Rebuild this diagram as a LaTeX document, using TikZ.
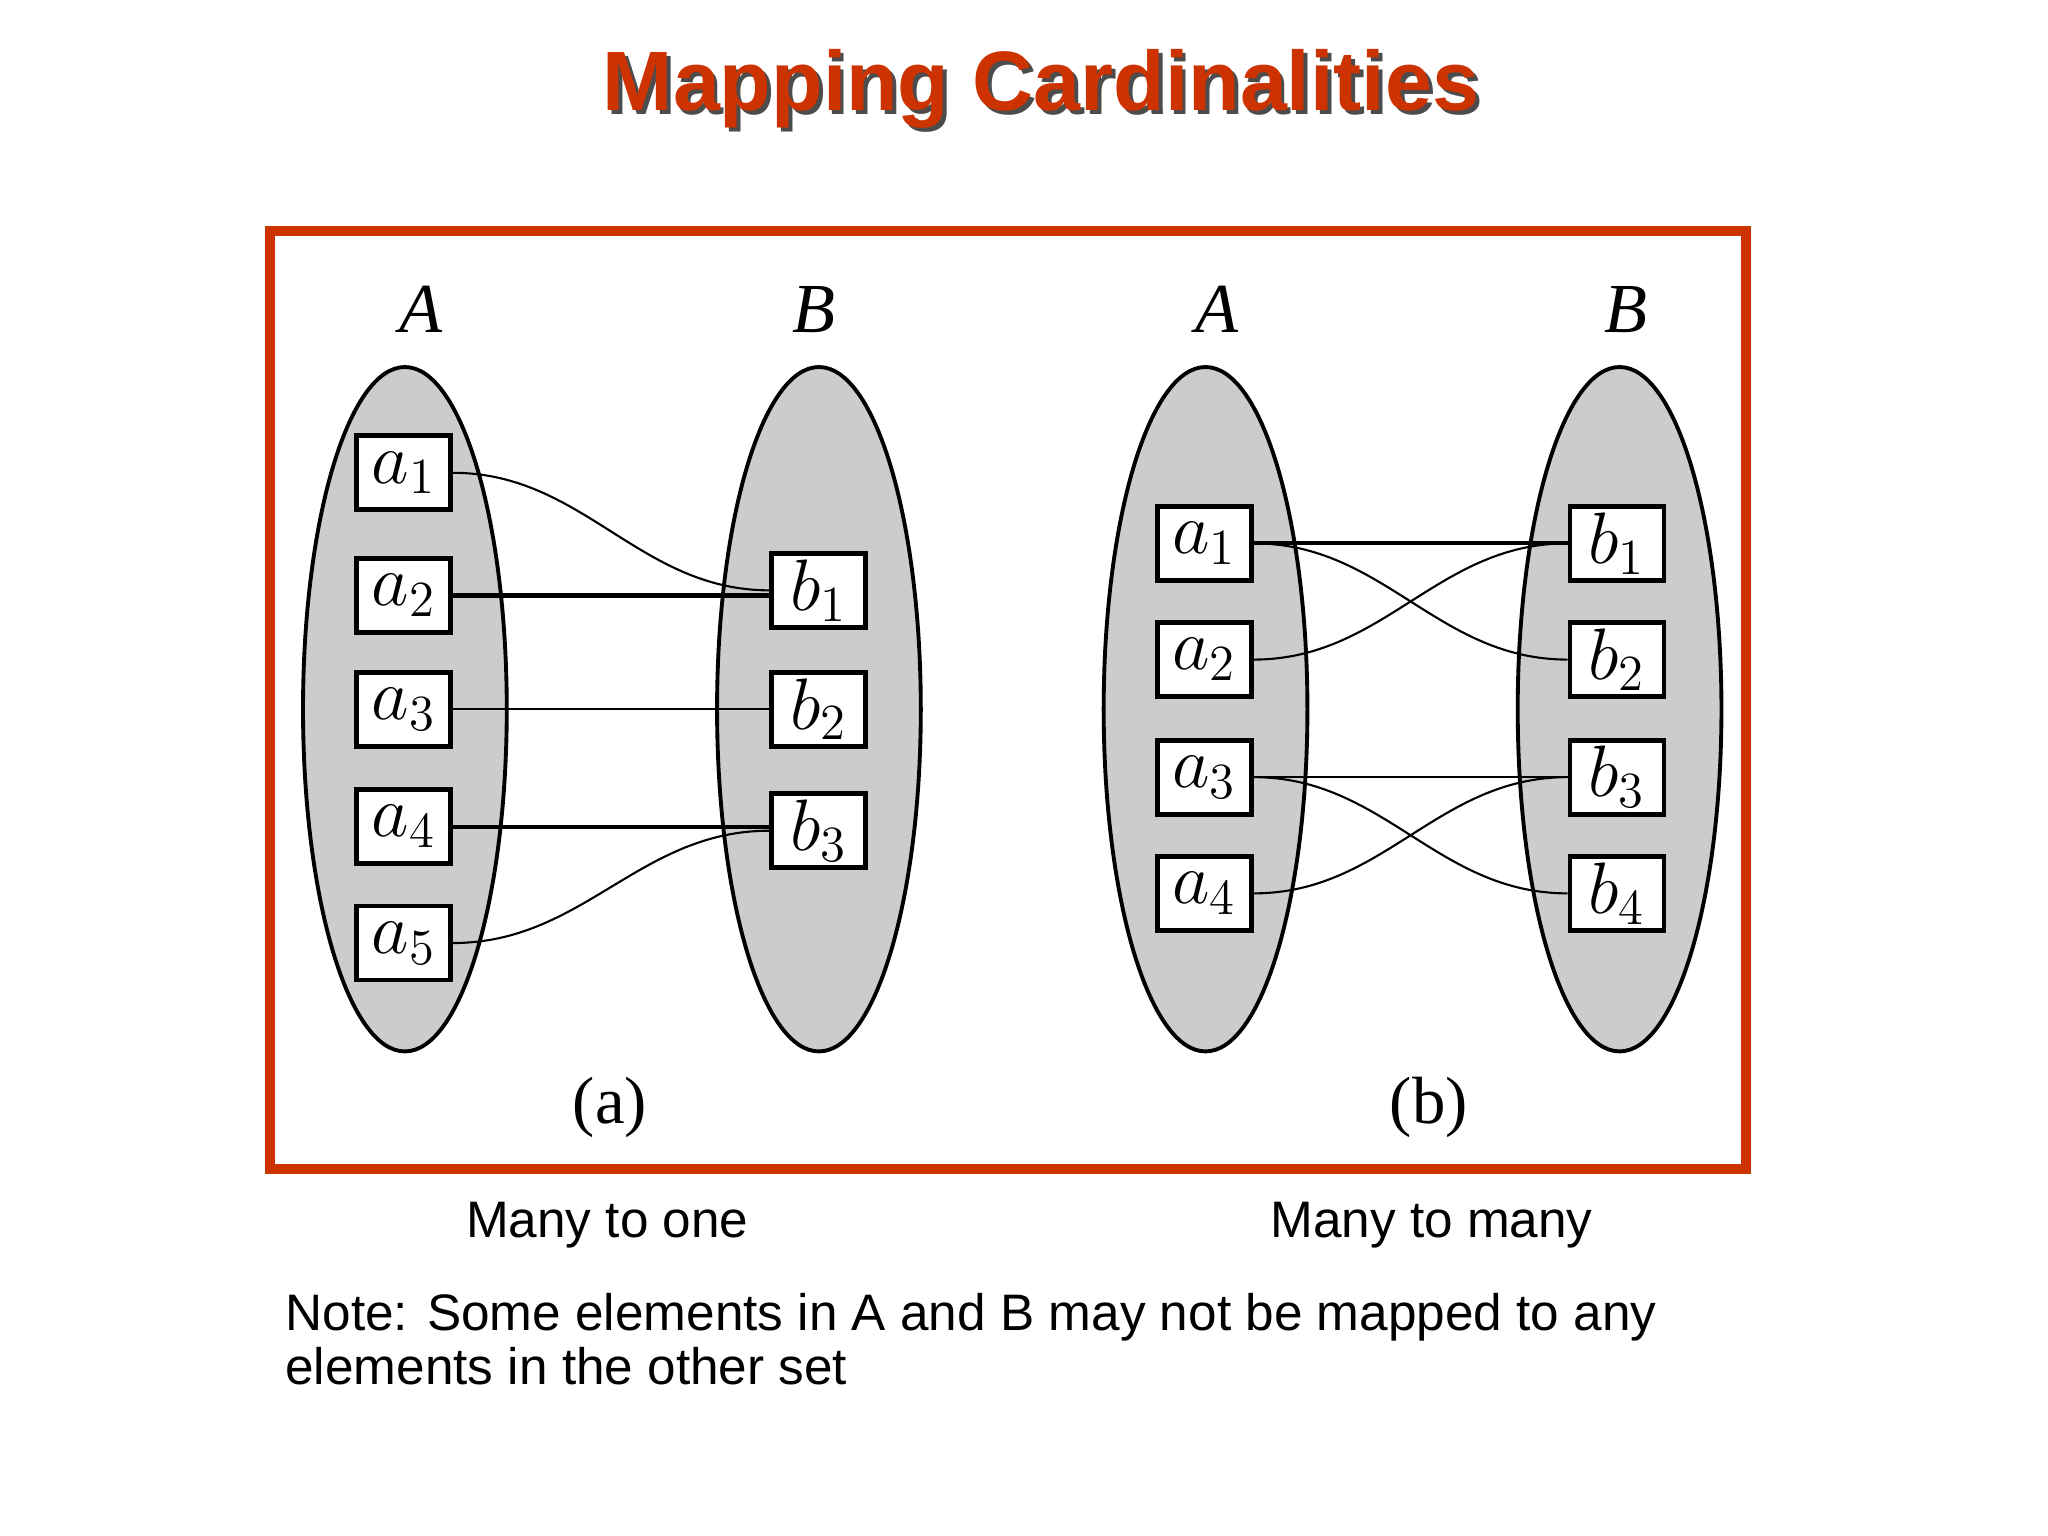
\documentclass[tikz,border=0pt]{standalone}
\usepackage{fontspec}
\setmainfont{Liberation Serif}
\newfontfamily\sfont{Liberation Sans}
\definecolor{frame}{HTML}{CC3300}
\definecolor{ell}{HTML}{CCCCCC}
\begin{document}
\begin{tikzpicture}[x=0.01306cm,y=-0.01306cm,
  elbox/.style={draw,fill=white,line width=1.4pt,minimum width=0.94cm,minimum height=0.74cm,inner sep=0pt,font=\fontsize{20}{22}\selectfont},
  lbl/.style={font=\fontsize{20}{22}\selectfont\itshape},
  captxt/.style={font=\fontsize{19}{21}\selectfont},
  txt/.style={font=\sfont\fontsize{14.6}{15.2}\selectfont},
  thk/.style={line width=1.2pt},
  thn/.style={line width=0.6pt}]
\useasboundingbox (0,0) rectangle (1568,1176);
% title
\node[font=\sfont\bfseries\fontsize{24}{27}\selectfont,text=black!70] at (800,71) {Mapping Cardinalities};
\node[font=\sfont\bfseries\fontsize{24}{27}\selectfont,text=frame] (title) at (797,68) {Mapping Cardinalities};
\draw[frame,line width=2.9pt] (207,177) rectangle (1337,895);
\foreach \n/\cx in {LA/310,LB/627,RA/923,RB/1240}{
  \fill[ell,draw=black,line width=1.1pt] (\cx,543) ellipse [x radius=78,y radius=262];
  \coordinate (\n) at (\cx,543);}
\node[lbl] (lA) at (322,237) {A};
\node[lbl] (lB) at (623,237) {B};
\node[lbl] (rA) at (932,237) {A};
\node[lbl] (rB) at (1245,237) {B};
\foreach \i/\y in {1/362,2/456,3/543,4/633,5/722}{\node[elbox] (la\i) at (309,\y) {$a_{\i}$};}
\foreach \i/\y in {1/452,2/543,3/636}{\node[elbox] (lb\i) at (627,\y) {$b_{\i}$};}
\foreach \i/\y in {1/416,2/505,3/595,4/684}{\node[elbox] (ra\i) at (922,\y) {$a_{\i}$};
  \node[elbox] (rb\i) at (1238,\y) {$b_{\i}$};}
\draw[thn] (la1.east) .. controls +(100,0) and +(-100,0) .. (lb1.west);
\draw[thk] (la2.east) -- (la2.east -| lb1.west);
\draw[thn] (la3.east) -- (lb2.west);
\draw[thk] (la4.east) -- (la4.east -| lb3.west);
\draw[thn] (la5.east) .. controls +(100,0) and +(-100,0) .. (lb3.west);
\draw[thk] (ra1.east) -- (rb1.west);
\draw[thn] (ra1.east) .. controls +(100,0) and +(-100,0) .. (rb2.west);
\draw[thn] (ra2.east) .. controls +(100,0) and +(-100,0) .. (rb1.west);
\draw[thn] (ra3.east) -- (rb3.west);
\draw[thn] (ra3.east) .. controls +(100,0) and +(-100,0) .. (rb4.west);
\draw[thn] (ra4.east) .. controls +(100,0) and +(-100,0) .. (rb3.west);
\node[captxt] (ca) at (467,848) {(a)};
\node[captxt] (cb) at (1094,848) {(b)};
\node[txt] (m1) at (465,938) {Many to one};
\node[txt] (m2) at (1096,938) {Many to many};
\node[txt,anchor=north west,align=left,inner sep=0pt] (note) at (218,990) {Note: Some elements in A and B may not be mapped to any\\elements in the other set};
\end{tikzpicture}
\end{document}
